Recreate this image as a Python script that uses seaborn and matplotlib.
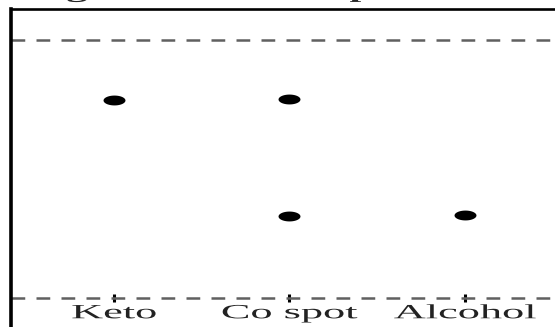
'''
Dot chart of measured levels per group
'''

# imports
import numpy as np
import pandas as pd
import seaborn as sns
import matplotlib.pyplot as plt
from matplotlib.path import Path
from matplotlib.patheffects import AbstractPathEffect
from matplotlib.transforms import Affine2D

# data
groups = ['Keto', 'Co spot', 'Co spot', 'Alcohol']
values = [7.68, 7.73, 3.20, 3.22]
order = ['Keto', 'Co spot', 'Alcohol']
ref_lines = [0, 10]
title = 'Drug Levels in Samples'

# the reference picture is stretched sideways, so glyphs get the same stretch
class Stretch(AbstractPathEffect):
    def __init__(self, sx, anchor='center'):
        super().__init__()
        self.sx = sx; self.anchor = anchor
    def draw_path(self, renderer, gc, tpath, affine, rgbFace=None):
        ext = tpath.get_extents()
        cx = ext.x0 if self.anchor == 'left' else (ext.x0 + ext.x1) / 2
        aff = Affine2D().translate(-cx, 0).scale(self.sx, 1).translate(cx, 0) + affine
        renderer.draw_path(gc, tpath, aff, rgbFace)

# wide elliptical dot
t = np.linspace(0, 2 * np.pi, 64)
ELLIPSE = Path(np.column_stack([np.cos(t), 0.45 * np.sin(t)]), closed=True)

sns.set_style('ticks')
plt.rcParams['font.family'] = ['Liberation Serif', 'DejaVu Serif']

df = pd.DataFrame({'group': groups, 'value': values})

fig = plt.figure(figsize=(5.55, 3.27), dpi=100)
ax = fig.add_axes([11 / 555, 0, 1 - 11 / 555, 1 - 8.5 / 327])

for y in ref_lines:
    ax.axhline(y, color='#606060', lw=1.8, linestyle=(0, (5.5, 4.5)), zorder=1)

sns.stripplot(data=df, x='group', y='value', order=order, jitter=False,
              marker=ELLIPSE, s=15.8, color='black', linewidth=0, ax=ax, zorder=3)

ax.set_xlim(-0.587, 2.513)
ax.set_ylim(-1.126, 11.24)
ax.set_xlabel(''); ax.set_ylabel('')
ax.set_yticks([])

ax.spines['right'].set_visible(False)
ax.spines['bottom'].set_position(('data', ref_lines[0]))
ax.spines['bottom'].set_visible(False)
ax.spines['left'].set_linewidth(2.6)
ax.spines['top'].set_linewidth(1.9)
for s in ['left', 'top']:
    ax.spines[s].set_color('black')

ax.tick_params(axis='x', direction='inout', length=6, width=2.2, color='black',
               pad=1.5, labelsize=14.5, labelcolor='#222222')
for lbl in ax.get_xticklabels():
    lbl.set_path_effects([Stretch(2.2)])

# title sits almost fully above the picture; only descenders show
fig.text(-0.011, 1 + 2.5 / 327, title, ha='left', va='baseline', fontsize=15,
         fontweight='bold', path_effects=[Stretch(2.03, 'left')])

fig.savefig('out.png', dpi=100)
